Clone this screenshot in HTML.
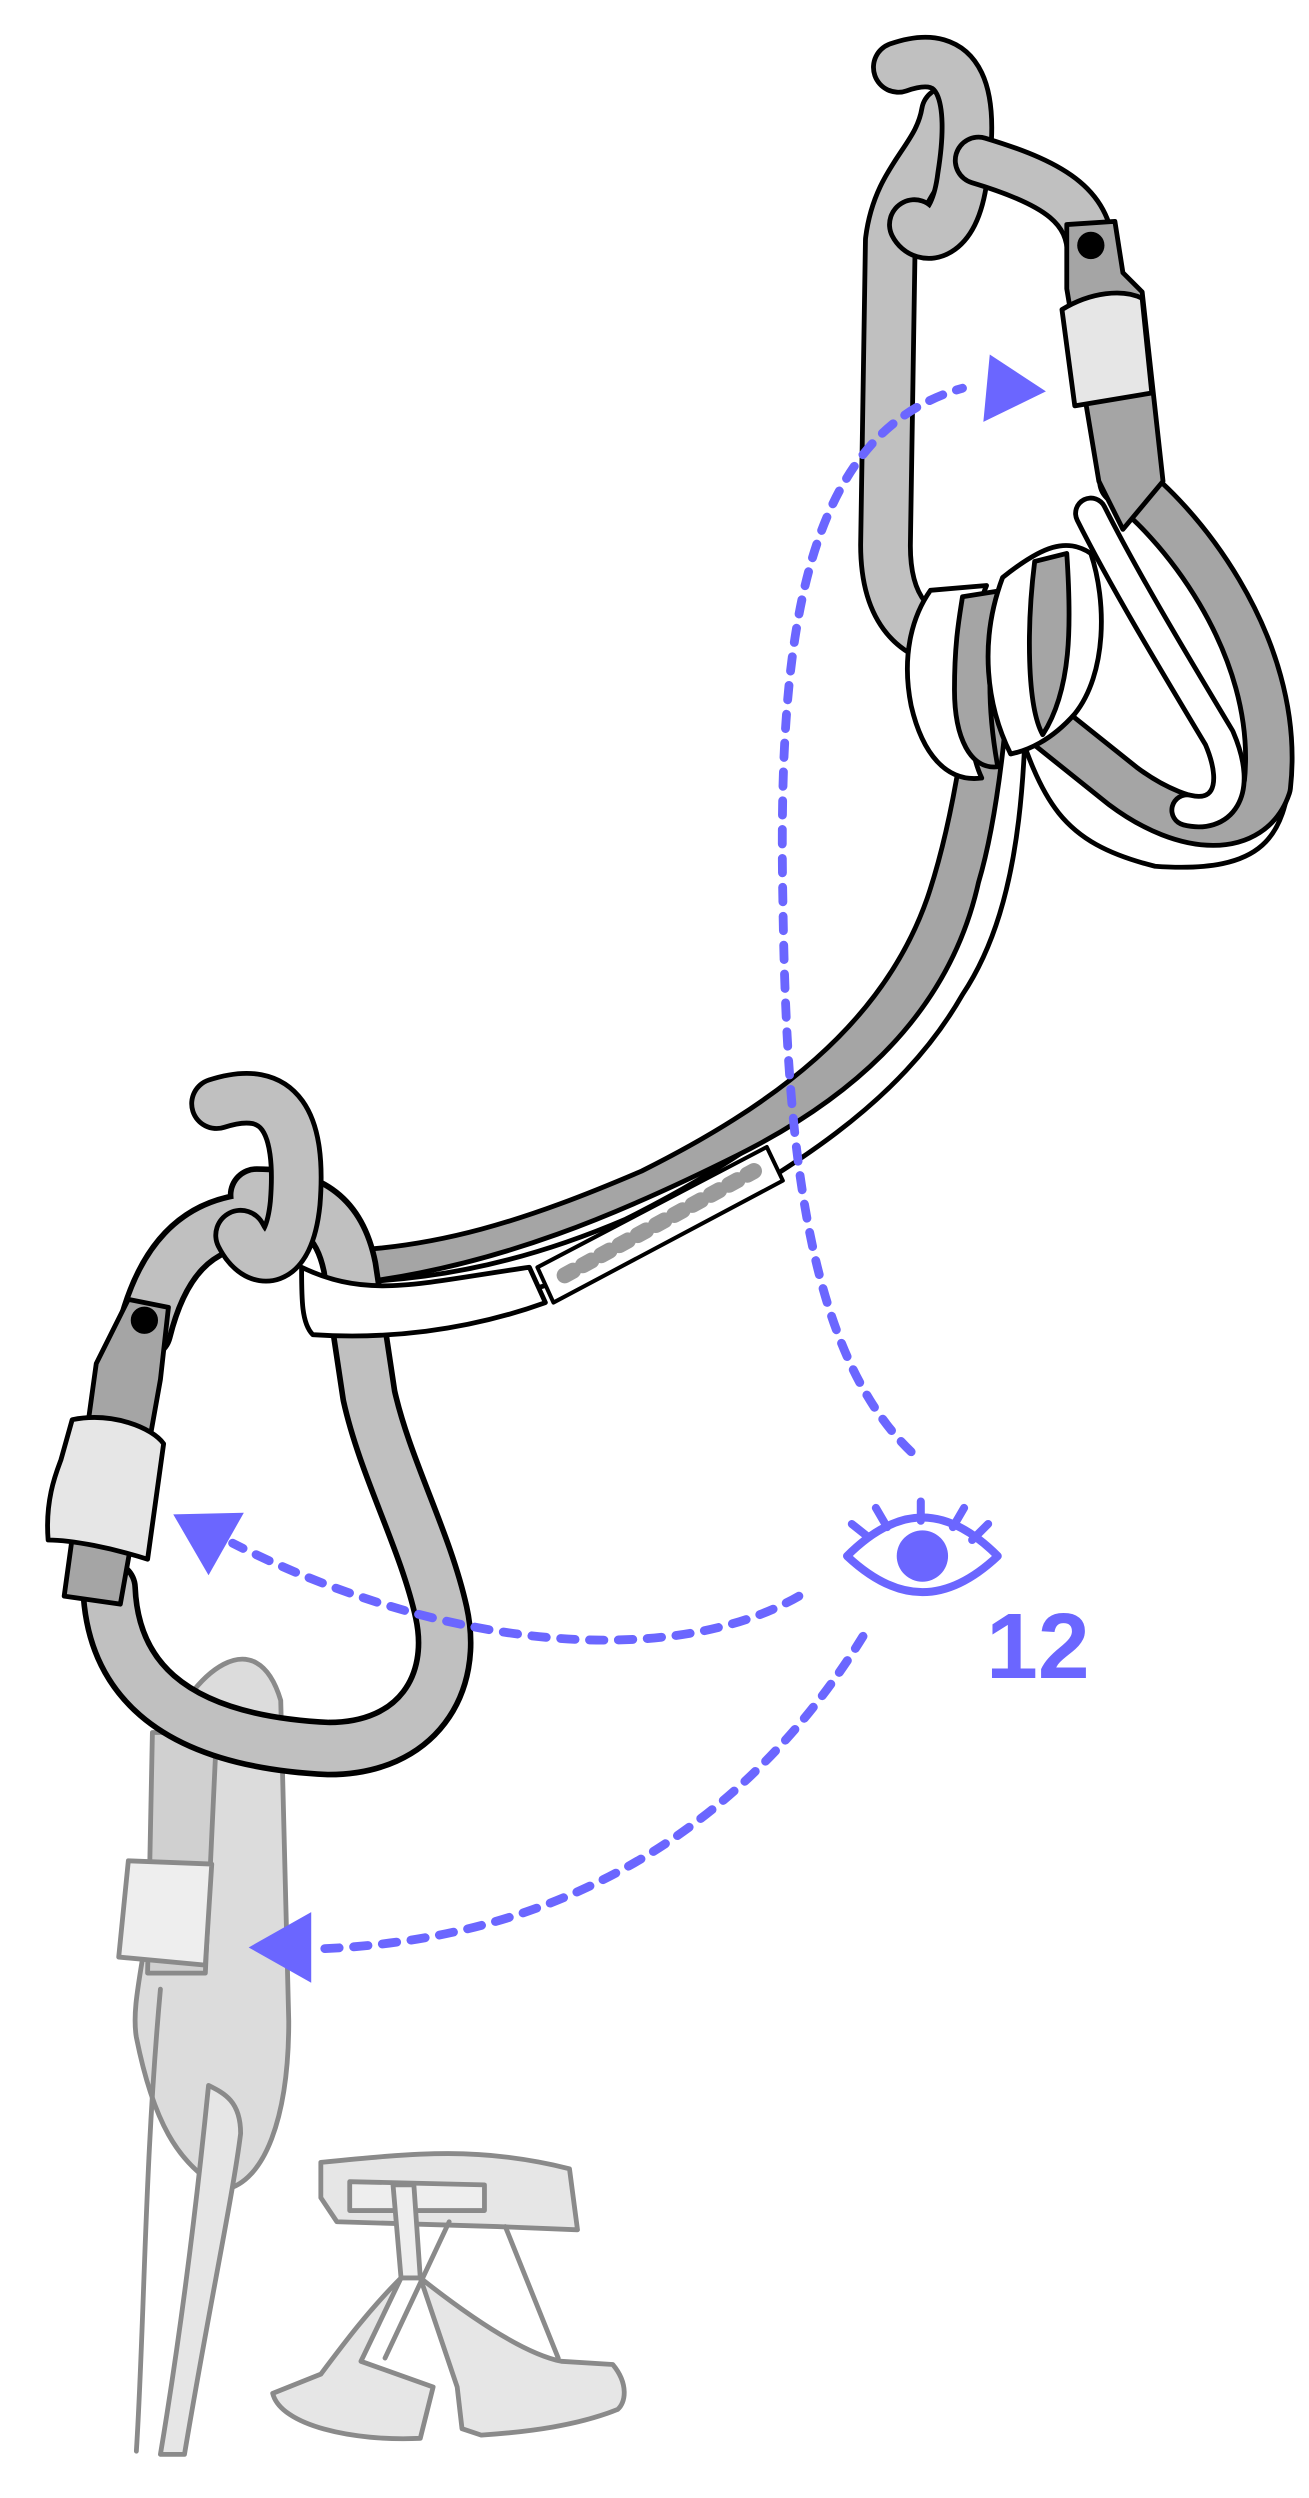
<!DOCTYPE html>
<html><head><meta charset="utf-8"><style>
html,body{margin:0;padding:0;background:#fff;}
svg{display:block;}
</style></head><body>
<svg width="1309" height="2498" viewBox="0 0 816 1557.2" xmlns="http://www.w3.org/2000/svg">
<!-- faded lower gear -->
<g stroke="#8a8a8a" stroke-width="3" fill="#dcdcdc" stroke-linejoin="round" stroke-linecap="round">
  <path d="M100,1090 C120,1040 160,1010 175,1060 L180,1260 C180,1320 165,1360 140,1365 C110,1350 95,1320 85,1270 C80,1240 100,1200 100,1090 Z"/>
  <path d="M100,1240 C90,1350 90,1450 85,1528" fill="none"/>
  <path d="M130,1300 C120,1400 110,1470 100,1530 L115,1530 C130,1440 145,1370 150,1330 C150,1310 140,1305 130,1300 Z" fill="#e6e6e6"/>
  <path d="M95,1080 L92,1230 L128,1230 L135,1080 Z" fill="#d0d0d0"/>
  <path d="M80,1160 L74,1220 L128,1225 L132,1162 Z" fill="#eeeeee"/>
  <path d="M200,1348 C260,1342 300,1338 355,1352 L360,1390 L310,1388 L210,1385 L200,1370 Z" fill="#e6e6e6"/>
  <path d="M218,1360 L302,1362 L302,1378 L218,1378 Z" fill="#eeeeee"/>
  <path d="M245,1362 L250,1420 L262,1420 L258,1362 Z" fill="#eeeeee"/>
  <path d="M250,1420 C230,1440 215,1460 200,1480 L170,1492 C175,1512 220,1522 262,1520 L270,1488 L225,1472 Z" fill="#e6e6e6"/>
  <path d="M262,1420 C300,1450 330,1468 350,1472 L382,1474 C392,1486 390,1498 385,1502 C360,1512 330,1516 300,1518 L288,1514 L285,1488 Z" fill="#e6e6e6"/>
  <path d="M280,1385 L240,1470 M315,1388 L348,1470" fill="none"/>
</g>
<!-- sling -->
<g stroke-linejoin="round" stroke-linecap="round">
  <path d="M195,800 C260,800 320,790 390,760 C470,720 540,670 580,600 C610,540 615,470 620,380 L640,380 C640,470 640,560 600,620 C560,690 490,730 420,770 C350,805 280,820 195,822 Z" fill="#fff" stroke="#000" stroke-width="3"/>
  <path d="M200,780 C270,780 330,760 400,730 C480,690 550,640 578,560 C595,510 605,440 610,370 L632,370 C630,440 622,510 610,550 C590,640 520,690 460,720 C390,755 310,790 220,800 Z" fill="#a5a5a5" stroke="#000" stroke-width="3"/>
  <path d="M335,790 L478,715 L488,736 L345,812 Z" fill="#fff" stroke="#000" stroke-width="2.5"/>
  <path d="M352,795 L470,730" stroke="#9a9a9a" stroke-width="10" stroke-dasharray="6,7" fill="none"/>
  <path d="M630,440 C650,500 660,525 720,540 C790,545 800,520 805,480 L790,470" fill="none" stroke="#000" stroke-width="3"/>
</g>
<!-- top carabiner -->
<g fill="none" stroke-linejoin="round" stroke-linecap="round">
  <path d="M590,70 C585,100 560,110 555,150 L552,340 C552,380 570,400 600,400" stroke="#000" stroke-width="34"/>
  <path d="M590,70 C585,100 560,110 555,150 L552,340 C552,380 570,400 600,400" stroke="#c0c0c0" stroke-width="28"/>
  <path d="M560,42 C600,28 608,60 600,110 C595,150 575,150 570,140" stroke="#000" stroke-width="34"/>
  <path d="M560,42 C600,28 608,60 600,110 C595,150 575,150 570,140" stroke="#c0c0c0" stroke-width="28"/>
  <path d="M610,100 C660,115 680,130 680,160" stroke="#000" stroke-width="32"/>
  <path d="M610,100 C660,115 680,130 680,160" stroke="#c0c0c0" stroke-width="26"/>
  <path d="M700,300 C730,320 800,400 790,490 C780,520 740,520 700,490 L650,450" stroke="#000" stroke-width="32"/>
  <path d="M700,300 C730,320 800,400 790,490 C780,520 740,520 700,490 L650,450" stroke="#a5a5a5" stroke-width="26"/>
  <path d="M680,320 C700,360 730,410 760,460 C775,495 760,510 740,505" stroke="#000" stroke-width="22"/>
  <path d="M680,320 C700,360 730,410 760,460 C775,495 760,510 740,505" stroke="#fff" stroke-width="16"/>
</g>
<g stroke="#000" stroke-width="3" stroke-linejoin="round">
  <path d="M665,140 L695,138 L700,170 L712,182 L725,300 L700,330 L685,300 L665,180 Z" fill="#a5a5a5"/>
  <path d="M662,193 C680,182 700,180 712,186 L718,245 L670,253 Z" fill="#e6e6e6"/>
  <circle cx="680" cy="153" r="7" fill="#000"/>
  <path d="M580,368 L615,365 C600,400 600,460 612,485 C590,488 575,470 568,440 C562,410 568,385 580,368 Z" fill="#fff"/>
  <path d="M600,372 L625,368 C615,400 615,440 622,478 C605,480 595,460 595,430 C595,400 598,385 600,372 Z" fill="#a5a5a5"/>
  <path d="M625,360 C650,340 665,335 680,345 C690,375 690,420 670,445 C655,462 640,468 630,470 C615,440 610,400 625,360 Z" fill="#fff"/>
  <path d="M645,350 L665,345 C668,390 668,430 650,458 C640,440 640,390 645,350 Z" fill="#a5a5a5"/>
</g>
<!-- bottom carabiner -->
<g fill="none" stroke-linejoin="round" stroke-linecap="round">
  <path d="M165,760 C120,760 100,790 90,830 M68,990 C70,1040 100,1085 205,1090 C260,1090 285,1050 275,1005 C265,960 240,915 230,870 L218,790 C212,760 195,745 160,745" stroke="#000" stroke-width="36"/>
  <path d="M165,760 C120,760 100,790 90,830 M68,990 C70,1040 100,1085 205,1090 C260,1090 285,1050 275,1005 C265,960 240,915 230,870 L218,790 C212,760 195,745 160,745" stroke="#c0c0c0" stroke-width="29"/>
  <path d="M135,688 C175,675 188,700 184,750 C180,790 160,790 150,770" stroke="#000" stroke-width="34"/>
  <path d="M135,688 C175,675 188,700 184,750 C180,790 160,790 150,770" stroke="#c0c0c0" stroke-width="28"/>
</g>
<g stroke="#000" stroke-width="3" stroke-linejoin="round">
  <path d="M188,790 C230,810 260,800 330,790 L340,812 C290,830 240,835 195,832 C188,825 188,810 188,790 Z" fill="#fff"/>
  <path d="M80,810 L105,815 L100,860 L75,1000 L40,995 L60,850 Z" fill="#a5a5a5"/>
  <path d="M45,885 C70,880 95,890 102,900 L92,972 C70,965 45,960 30,960 C28,935 35,918 38,910 Z" fill="#e6e6e6"/>
  <circle cx="90" cy="823" r="7" fill="#000"/>
</g>
<!-- purple dotted connectors -->
<g fill="none" stroke="#6b66ff" stroke-width="5.5" stroke-dasharray="9,9" stroke-linecap="round">
  <path d="M568,905 C500,840 490,700 488,560 C485,400 500,270 600,242"/>
  <path d="M498,995 C420,1040 280,1030 145,962"/>
  <path d="M538,1020 C470,1130 360,1210 195,1215"/>
</g>
<g fill="#6b66ff">
  <path d="M652,244 L613,263 L617,221 Z"/>
  <path d="M108,944 L152,943 L130,982 Z"/>
  <path d="M155,1214 L194,1192 L194,1236 Z"/>
</g>
<!-- eye -->
<g stroke="#6b66ff" stroke-width="5" stroke-linecap="round" fill="none">
  <path d="M528,970 C560,938 590,938 622,970 C590,1000 560,1000 528,970 Z" stroke-linejoin="round"/>
  <path d="M531,950 L541,958 M546,940 L553,952 M574,936 L574,948 M601,940 L594,952 M616,950 L606,960"/>
</g>
<circle cx="575" cy="970" r="16" fill="#6b66ff"/>
<text x="647" y="1046" text-anchor="middle" font-family="Liberation Sans, sans-serif" font-weight="bold" font-size="58" fill="#6b66ff">12</text>
</svg>
</body></html>
